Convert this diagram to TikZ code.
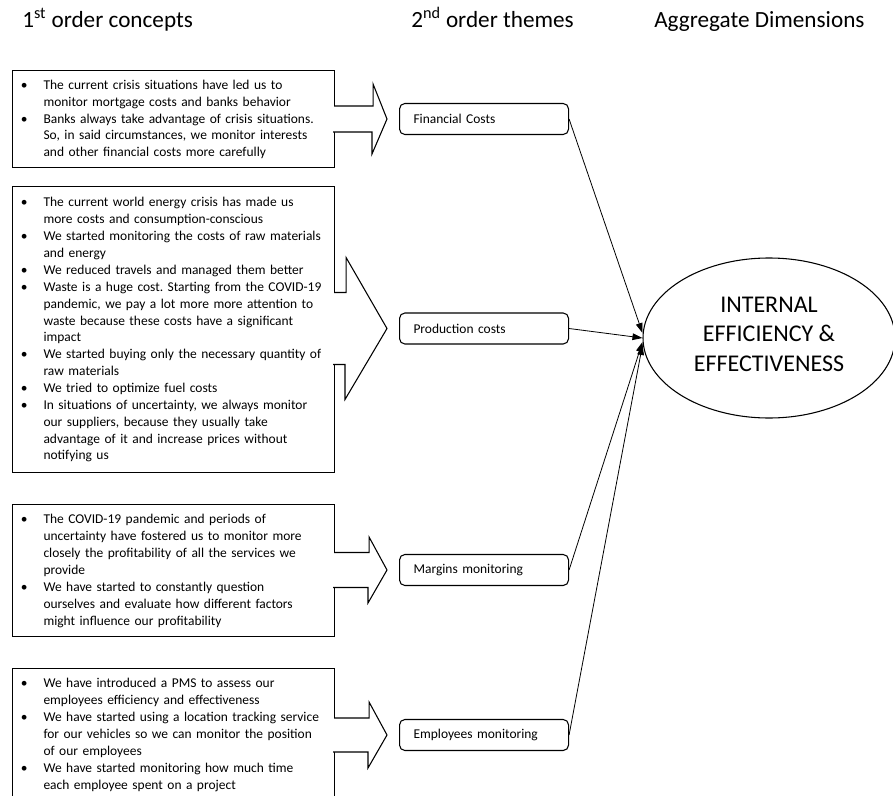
\documentclass[tikz,border=0pt]{standalone}
\usepackage{fontspec}
\setmainfont{Carlito}
\usepackage{enumitem}
\usetikzlibrary{shapes.geometric, arrows.meta, calc}

\newcommand{\bodysz}{\fontsize{10.1}{12.65}\selectfont}
\newcommand{\bottompad}{\par\vskip5pt\nointerlineskip\hbox{}}
\setlist[itemize]{nosep, leftmargin=22.5pt, labelsep=12pt, label=\textbullet}
\frenchspacing

\tikzset{
	concept/.style={draw, line width=0.8pt, anchor=north west, minimum width=241.5pt,
		text width=240pt, inner xsep=0.75pt, inner ysep=0pt, align=left, font=\bodysz},
	theme/.style={draw, line width=0.8pt, rounded corners=4pt, anchor=west, minimum width=126.75pt,
		minimum height=23.25pt, text width=105.75pt, inner xsep=10.5pt, align=left, font=\bodysz},
	dimension/.style={draw, line width=0.8pt, ellipse, minimum width=189pt, minimum height=120pt,
		inner sep=0pt, align=center, text depth=6pt, font=\fontsize{18}{22}\selectfont},
	header/.style={anchor=base west, inner sep=0pt, font=\fontsize{17.4}{20}\selectfont},
	blockarrow/.style={draw, fill=white, line width=0.8pt},
	link/.style={line width=0.6pt, -{Triangle[length=7.5pt, width=5pt]}}
}

\begin{document}
\begin{tikzpicture}[x=0.75pt, y=-0.75pt]
		\useasboundingbox (0,0) rectangle (893,796);
		\clip (0,0) rectangle (893,796);

		% headers
		\node[header] (h1) at (22,27) {1\textsuperscript{st} order concepts};
		\node[header] (h2) at (411,27) {2\textsuperscript{nd} order themes};
		\node[header] (h3) at (654,27) {Aggregate Dimensions};

		% 1st order concepts
		\node[concept, minimum height=72.75pt] (c1) at (12,70) {\begin{itemize}
			\item The current crisis situations have led us to\newline monitor mortgage costs and banks behavior
			\item Banks always take advantage of crisis situations.\newline So, in said circumstances, we monitor interests\newline and other financial costs more carefully
		\end{itemize}\bottompad};
		\node[concept, minimum height=214.5pt] (c2) at (12,186) {\begin{itemize}
			\item The current world energy crisis has made us\newline more costs and consumption-conscious
			\item We started monitoring the costs of raw materials\newline and energy
			\item We reduced travels and managed them better
			\item Waste is a huge cost. Starting from the COVID-19\newline pandemic, we pay a lot more more attention to\newline waste because these costs have a significant\newline impact
			\item We started buying only the necessary quantity of\newline raw materials
			\item We tried to optimize fuel costs
			\item In situations of uncertainty, we always monitor\newline our suppliers, because they usually take\newline advantage of it and increase prices without\newline notifying us
		\end{itemize}\bottompad};
		\node[concept, minimum height=99pt] (c3) at (12,504) {\begin{itemize}
			\item The COVID-19 pandemic and periods of\newline uncertainty have fostered us to monitor more\newline closely the profitability of all the services we\newline provide
			\item We have started to constantly question\newline ourselves and evaluate how different factors\newline might influence our profitability
		\end{itemize}\bottompad};
		\node[concept, minimum height=99pt] (c4) at (12,668) {\begin{itemize}
			\item We have introduced a PMS to assess our\newline employees efficiency and effectiveness
			\item We have started using a location tracking service\newline for our vehicles so we can monitor the position\newline of our employees
			\item We have started monitoring how much time\newline each employee spent on a project
		\end{itemize}\bottompad};

		% 2nd order themes
		\node[theme] (t1) at (399,119) {Financial Costs};
		\node[theme] (t2) at (399,328.5) {Production costs};
		\node[theme] (t3) at (399,570) {Margins monitoring};
		\node[theme] (t4) at (399,735) {Employees monitoring};

		% aggregate dimension
		\node[dimension] (e) at (769,338) {INTERNAL\\EFFICIENCY \&\\EFFECTIVENESS};

		% block arrows
		\filldraw[blockarrow] ($(c1.east |- t1.west)+(-1,-13)$) --++(39,0) --++(0,-22) -- ($(t1.west)+(-12,0)$) --++(-15,35) --++(0,-22) --++(-39,0);
		\filldraw[blockarrow] ($(c2.east |- t2.west)+(-1,-36)$) --++(12,0) --++(0,-35) -- ($(t2.west)+(-12,0)$) --++(-42,71) --++(0,-35) --++(-12,0);
		\filldraw[blockarrow] ($(c3.east |- t3.west)+(-1,-17.5)$) --++(35,0) --++(0,-15.5) -- ($(t3.west)+(-12,0)$) --++(-19,33) --++(0,-15.5) --++(-35,0);
		\filldraw[blockarrow] ($(c4.east |- t4.west)+(-1,-17)$) --++(35,0) --++(0,-16) -- ($(t4.west)+(-12,0)$) --++(-19,33) --++(0,-16) --++(-35,0);

		% links
		\draw[link] (t1.east) -- ($(e.west)+(0,-5)$);
		\draw[link] (t2.east) -- (e.west);
		\draw[link] (t3.east) -- ($(e.west)+(0,4)$);
		\draw[link] (t4.east) -- ($(e.west)+(0,7)$);
	\end{tikzpicture}
\end{document}
